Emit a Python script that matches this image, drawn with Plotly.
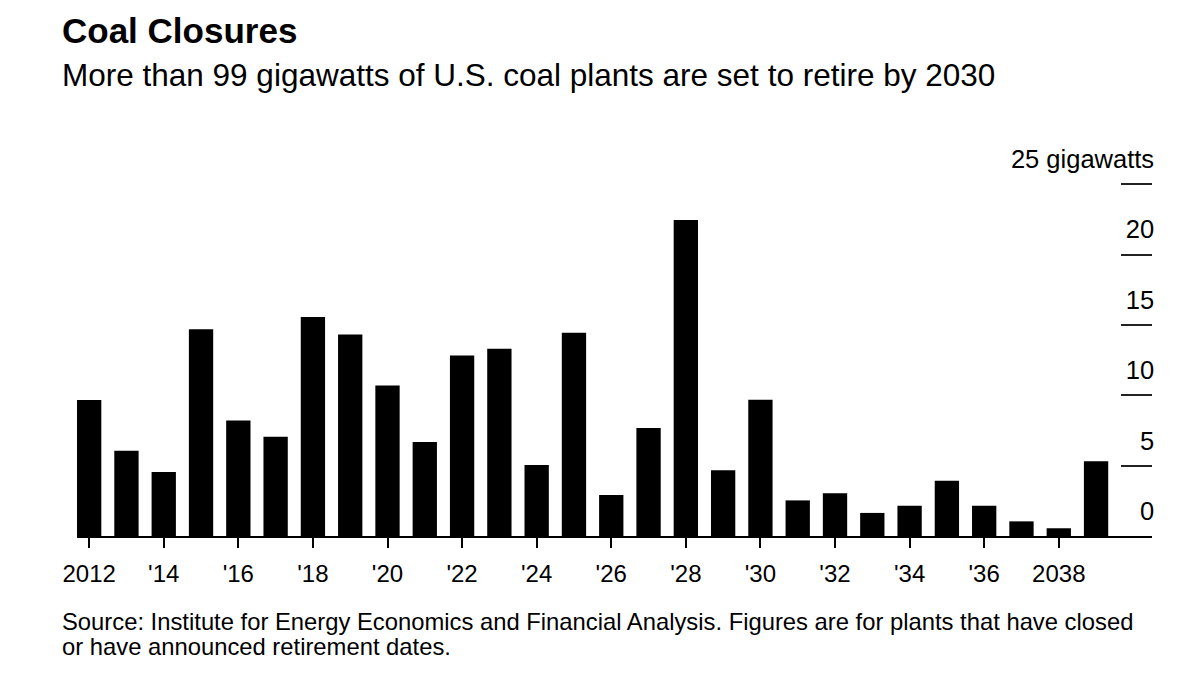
import plotly.graph_objects as go

years = list(range(2012, 2040))
gigawatts = [9.67, 6.06, 4.55, 14.69, 8.2, 7.06, 15.57, 14.31, 10.69, 6.68,
             12.82, 13.31, 5.05, 14.45, 2.91, 7.68, 22.46, 4.67, 9.69, 2.53,
             3.03, 1.64, 2.15, 3.93, 2.15, 1.04, 0.55, 5.31]

x_tickvals = list(range(2012, 2039, 2))
x_ticktext = ["2012", "'14", "'16", "'18", "'20", "'22", "'24", "'26", "'28",
              "'30", "'32", "'34", "'36", "2038"]
y_tickvals = [0, 5, 10, 15, 20, 25]
y_ticktext = ["0", "5", "10", "15", "20", "25 gigawatts"]

title = "Coal Closures"
subtitle = "More than 99 gigawatts of U.S. coal plants are set to retire by 2030"
source_line1 = "Source: Institute for Energy Economics and Financial Analysis. Figures are for plants that have closed"
source_line2 = "or have announced retirement dates."

FONT = "Liberation Sans"
X0 = -17 / 1075


def py(pix):
    return (536 - pix) / 396


fig = go.Figure(go.Bar(x=years, y=gigawatts, marker=dict(color="#000000", line=dict(width=0))))

fig.update_layout(
    width=1186, height=678,
    margin=dict(l=77, r=34, t=140, b=142),
    paper_bgcolor="white", plot_bgcolor="white",
    bargap=0.348,
    showlegend=False,
    font=dict(family=FONT, color="#000000"),
    xaxis=dict(
        range=[2011.674, 2040.5],
        tickvals=x_tickvals, ticktext=x_ticktext,
        ticks="outside", ticklen=10, tickwidth=1.5, tickcolor="#000000",
        ticklabelstandoff=5,
        showline=True, linecolor="#000000", linewidth=1.5,
        showgrid=False, zeroline=False,
        tickfont=dict(size=24, family=FONT, color="#000000"),
        fixedrange=True,
    ),
    yaxis=dict(
        range=[0, 28.14],
        side="right",
        tickvals=y_tickvals, ticktext=y_ticktext,
        ticklabelposition="inside",
        ticklabelshift=-25,
        ticklabelstandoff=-31,
        ticklabeloverflow="allow",
        ticks="inside", ticklen=31, tickwidth=1.5, tickcolor="#222222",
        showline=False, showgrid=False, zeroline=False,
        tickfont=dict(size=25.5, family=FONT, color="#000000"),
        fixedrange=True,
    ),
    annotations=[
        dict(text="<b>" + title + "</b>", xref="paper", yref="paper",
             x=X0, y=py(30), xanchor="left", yanchor="middle",
             showarrow=False, font=dict(size=35, family=FONT, color="#000000")),
        dict(text=subtitle, xref="paper", yref="paper",
             x=X0, y=py(75), xanchor="left", yanchor="middle",
             showarrow=False, font=dict(size=31.5, family=FONT, color="#000000")),
        dict(text=source_line1, xref="paper", yref="paper", align="left",
             x=X0, y=py(621), xanchor="left", yanchor="middle",
             showarrow=False, font=dict(size=23.8, family=FONT, color="#000000")),
        dict(text=source_line2, xref="paper", yref="paper", align="left",
             x=X0, y=py(646), xanchor="left", yanchor="middle",
             showarrow=False, font=dict(size=23.8, family=FONT, color="#000000")),
    ],
)

fig.write_html("out.html")
